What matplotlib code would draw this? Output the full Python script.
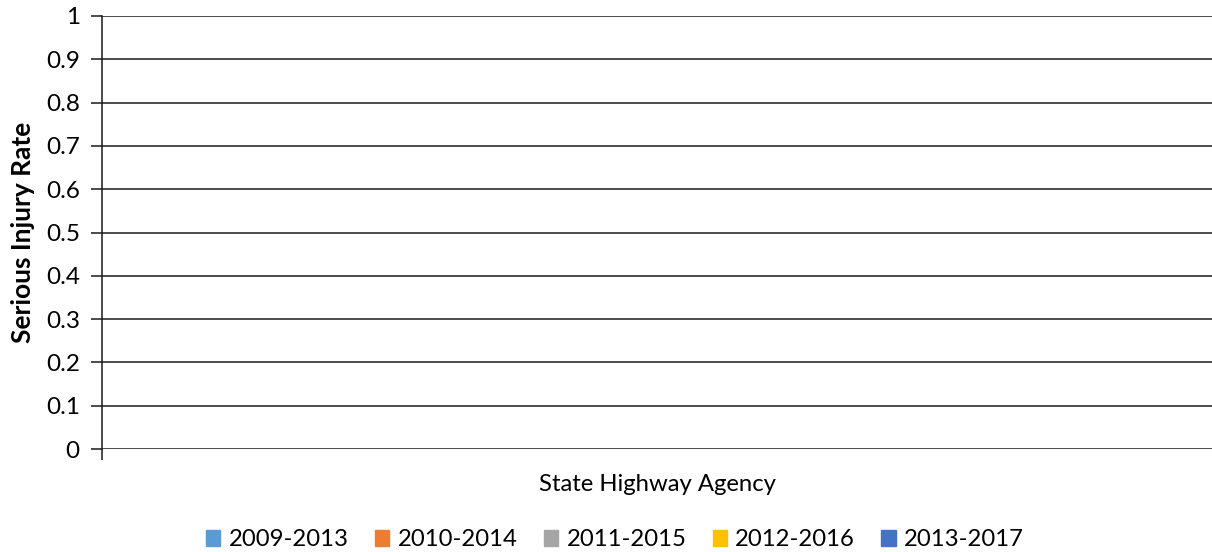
import matplotlib.pyplot as plt
import numpy as np
from matplotlib.patches import Patch

categories = ["State Highway Agency"]
periods = ["2009-2013", "2010-2014", "2011-2015", "2012-2016", "2013-2017"]
rates_2009_2013 = [0.0]
rates_2010_2014 = [0.0]
rates_2011_2015 = [0.0]
rates_2012_2016 = [0.0]
rates_2013_2017 = [0.0]
y_ticks = [0, 0.1, 0.2, 0.3, 0.4, 0.5, 0.6, 0.7, 0.8, 0.9, 1]
y_tick_labels = ["0", "0.1", "0.2", "0.3", "0.4", "0.5", "0.6", "0.7", "0.8", "0.9", "1"]

series = [rates_2009_2013, rates_2010_2014, rates_2011_2015, rates_2012_2016, rates_2013_2017]
colors = ["#5B9BD5", "#ED7D31", "#A5A5A5", "#FFC000", "#4472C4"]

plt.rcParams["font.family"] = ["Lato", "DejaVu Sans"]
fs = 17.2

fig = plt.figure(figsize=(12.12, 5.52), dpi=100)
ax = fig.add_axes([102 / 1212, 1 - 449 / 552, 1110 / 1212, 433 / 552])

x = np.arange(len(categories))
width = 0.12
for i, (vals, c) in enumerate(zip(series, colors)):
    ax.bar(x + (i - 2) * width, vals, width, color=c, label=periods[i])

ax.set_xlim(-0.5, len(categories) - 0.5)
ax.set_ylim(0, 1)
ax.set_yticks(y_ticks)
ax.set_yticklabels(y_tick_labels, fontsize=17.5)
ax.yaxis.grid(True, color="#1a1a1a", linewidth=1.1)
ax.set_axisbelow(True)

# category boundary tick on the left, category label in the middle
ax.set_xticks(np.arange(len(categories)) - 0.5)
ax.set_xticklabels([])
ax.set_xticks(x, minor=True)
ax.set_xticklabels(categories, minor=True, fontsize=fs)
ax.tick_params(axis="x", which="major", length=8, width=1.1, color="#1a1a1a")
ax.tick_params(axis="x", which="minor", length=0, pad=18)
ax.tick_params(axis="y", length=8, width=1.1, color="#1a1a1a", pad=8)

for s in ["top", "right", "bottom"]:
    ax.spines[s].set_visible(False)
ax.spines["left"].set_color("#1a1a1a")
ax.spines["left"].set_linewidth(1.1)

ax.set_ylabel("Serious Injury Rate", fontsize=19, fontweight="bold", labelpad=8)

handles = [Patch(color=c, label=p) for c, p in zip(colors, periods)]
fig.legend(handles=handles, loc="center", bbox_to_anchor=(615 / 1212, 1 - 540 / 552),
           ncol=5, frameon=False, fontsize=fs, handlelength=0.6, handleheight=0.6,
           handletextpad=0.35, columnspacing=1.1)

fig.savefig("out.png", dpi=100)
